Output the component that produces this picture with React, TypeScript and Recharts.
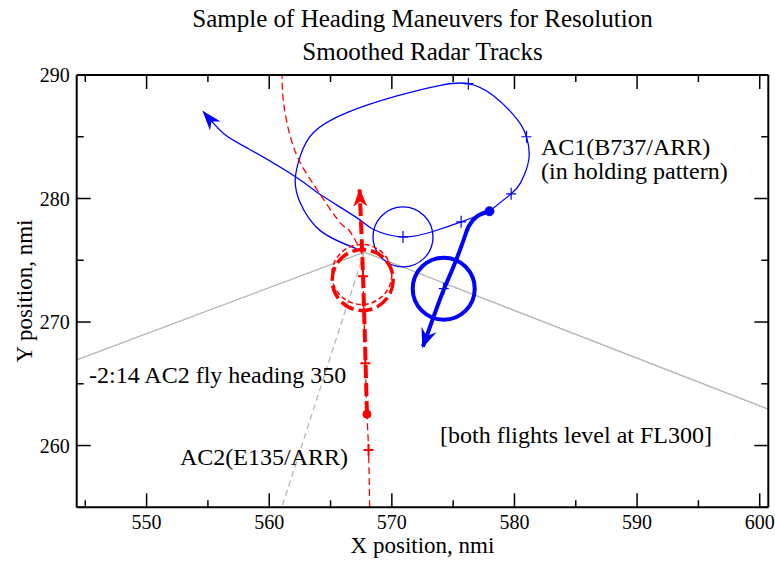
import { ComposedChart, Line, ReferenceDot, Scatter, XAxis, YAxis } from 'recharts';

const FONT = '"Liberation Serif", "Times New Roman", serif';
const BLUE = '#0000ff';
const RED = '#ff0000';
const GRAY = '#b4b4b4';

const X_DOMAIN = [544.3, 600.7];
const Y_DOMAIN = [255, 290];
const X_TICKS = [545, 550, 555, 560, 565, 570, 575, 580, 585, 590, 595, 600];
const Y_TICKS = [255, 260, 265, 270, 275, 280, 285, 290];

// separation geometry (gray)
const ridge = [
  { x: 544.3, y: 266.94 },
  { x: 567.75, y: 275.66 },
  { x: 600.7, y: 262.94 },
];
const ridgeDash = [
  { x: 567.75, y: 275.66 },
  { x: 561.03, y: 255 },
];

// AC2 smoothed track (thin dashed red)
const ac2Track = [
  { x: 568.19, y: 255 },
  { x: 568.1, y: 259.64 },
  { x: 567.97, y: 262.54 },
  { x: 567.84, y: 266.67 },
  { x: 567.65, y: 273.7 },
  { x: 567.45, y: 275.8 },
  { x: 566.5, y: 277.45 },
  { x: 565.79, y: 278.03 },
  { x: 563.89, y: 280.73 },
  { x: 562.53, y: 282.9 },
  { x: 561.71, y: 285.05 },
  { x: 561.17, y: 287.76 },
  { x: 561.05, y: 290 },
];
// AC2 heading 350 maneuver (thick dashed red)
const ac2Maneuver = [
  { x: 567.97, y: 262.54 },
  { x: 567.65, y: 273.7 },
  { x: 567.37, y: 280.73 },
];

// AC1 holding pattern (thin blue)
const ac1Hold = [
  { x: 567.1, y: 275.94 },
  { x: 564.16, y: 277.4 },
  { x: 562.53, y: 279.65 },
  { x: 562.12, y: 281.54 },
  { x: 562.53, y: 283.43 },
  { x: 563.59, y: 285.33 },
  { x: 566.34, y: 286.95 },
  { x: 570.42, y: 288.3 },
  { x: 573.96, y: 289.16 },
  { x: 576.24, y: 289.3 },
  { x: 578.31, y: 288.3 },
  { x: 580.22, y: 286.41 },
  { x: 580.98, y: 285.0 },
  { x: 581.17, y: 283.16 },
  { x: 580.49, y: 281.27 },
  { x: 579.73, y: 280.38 },
  { x: 577.96, y: 278.97 },
];
const ac1Exit = [
  { x: 577.96, y: 278.97 },
  { x: 575.65, y: 278.11 },
  { x: 573.41, y: 277.35 },
  { x: 570.91, y: 276.89 },
  { x: 568.51, y: 277.49 },
  { x: 567.16, y: 278.43 },
  { x: 564.16, y: 280.32 },
  { x: 562.26, y: 281.68 },
  { x: 558.45, y: 283.95 },
  { x: 556.3, y: 285.24 },
  { x: 554.61, y: 287.05 },
];
// AC1 resolution maneuver (thick blue)
const ac1Maneuver = [
  { x: 577.96, y: 278.97 },
  { x: 576.95, y: 278.56 },
  { x: 576.27, y: 277.75 },
  { x: 575.86, y: 276.67 },
  { x: 575.04, y: 274.51 },
  { x: 574.23, y: 272.62 },
  { x: 573.41, y: 270.45 },
  { x: 572.54, y: 268.02 },
];

const ac1Marks = [
  { x: 576.24, y: 289.3 },
  { x: 580.98, y: 285.0 },
  { x: 579.73, y: 280.38 },
  { x: 575.65, y: 278.11 },
  { x: 570.91, y: 276.89 },
  { x: 574.23, y: 272.7 },
];
const ac2Marks = [
  { x: 568.1, y: 259.64 },
  { x: 567.84, y: 266.67 },
  { x: 567.65, y: 273.7 },
];

const isMajor = (v: number) => Math.round(v) % 10 === 0;

const BottomTick = ({ x, y, payload }: any) => (
  <g>
    <line x1={x} x2={x} y1={y} y2={y - (isMajor(payload.value) ? 14 : 7)} stroke="#000" strokeWidth={1.5} />
    {isMajor(payload.value) && (
      <text x={x} y={y + 22} textAnchor="middle" fontSize={20} fontFamily={FONT} fill="#000">
        {payload.value}
      </text>
    )}
  </g>
);
const TopTick = ({ x, y, payload }: any) => (
  <line x1={x} x2={x} y1={y} y2={y + (isMajor(payload.value) ? 14 : 7)} stroke="#000" strokeWidth={1.5} />
);
const LeftTick = ({ x, y, payload }: any) => (
  <g>
    <line x1={x} x2={x + (isMajor(payload.value) ? 14 : 7)} y1={y} y2={y} stroke="#000" strokeWidth={1.5} />
    {isMajor(payload.value) && (
      <text x={x - 7} y={y + 7} textAnchor="end" fontSize={20} fontFamily={FONT} fill="#000">
        {payload.value}
      </text>
    )}
  </g>
);
const RightTick = ({ x, y, payload }: any) => (
  <line x1={x} x2={x - (isMajor(payload.value) ? 14 : 7)} y1={y} y2={y} stroke="#000" strokeWidth={1.5} />
);

const plus = (color: string, w: number) => (p: any) => (
  <path d={`M${p.cx - 5},${p.cy}H${p.cx + 5}M${p.cx},${p.cy - 6}V${p.cy + 6}`} stroke={color} strokeWidth={w} fill="none" />
);

export default function App() {
  return (
    <div style={{ position: 'absolute', left: 0, top: 0, width: 775, height: 563, background: '#fff' }}>
      <ComposedChart
        width={775}
        height={563}
        margin={{ top: 74, right: 5.7, bottom: 54.7, left: 75.7 }}
      >
        <defs>
          <marker id="arrowBlue" viewBox="0 0 20 16" markerWidth={20} markerHeight={16} refX={19} refY={8} orient="auto" markerUnits="userSpaceOnUse">
            <path d="M0,1 L20,8 L0,15 L6,8 Z" fill={BLUE} />
          </marker>
          <marker id="arrowBlueThick" viewBox="0 0 20 18" markerWidth={20} markerHeight={18} refX={18} refY={9} orient="auto" markerUnits="userSpaceOnUse">
            <path d="M0,1 L20,9 L0,17 L7,9 Z" fill={BLUE} />
          </marker>
          <marker id="arrowRed" viewBox="0 0 18 14" markerWidth={18} markerHeight={14} refX={17} refY={7} orient="auto" markerUnits="userSpaceOnUse">
            <path d="M0,0 L18,7 L0,14 L5,7 Z" fill={RED} />
          </marker>
        </defs>
        <XAxis
          type="number"
          dataKey="x"
          domain={X_DOMAIN}
          ticks={X_TICKS}
          interval={0}
          allowDataOverflow
          height={1}
          tickSize={0}
          tickMargin={0}
          tickLine={false}
          axisLine={{ stroke: '#000', strokeWidth: 2 }}
          tick={(p: any) => <BottomTick {...p} />}
        />
        <XAxis
          xAxisId="top"
          orientation="top"
          type="number"
          dataKey="x"
          domain={X_DOMAIN}
          ticks={X_TICKS}
          interval={0}
          allowDataOverflow
          height={1}
          tickSize={0}
          tickMargin={0}
          tickLine={false}
          axisLine={{ stroke: '#000', strokeWidth: 2 }}
          tick={(p: any) => <TopTick {...p} />}
        />
        <YAxis
          type="number"
          dataKey="y"
          domain={Y_DOMAIN}
          ticks={Y_TICKS}
          interval={0}
          allowDataOverflow
          width={1}
          tickSize={0}
          tickMargin={0}
          tickLine={false}
          axisLine={{ stroke: '#000', strokeWidth: 2 }}
          tick={(p: any) => <LeftTick {...p} />}
        />
        <YAxis
          yAxisId="right"
          orientation="right"
          type="number"
          dataKey="y"
          domain={Y_DOMAIN}
          ticks={Y_TICKS}
          interval={0}
          allowDataOverflow
          width={1}
          tickSize={0}
          tickMargin={0}
          tickLine={false}
          axisLine={{ stroke: '#000', strokeWidth: 2 }}
          tick={(p: any) => <RightTick {...p} />}
        />

        <Line data={ridge} dataKey="y" type="linear" stroke={GRAY} strokeWidth={1.3} dot={false} isAnimationActive={false} />
        <Line data={ridgeDash} dataKey="y" type="linear" stroke={GRAY} strokeWidth={1.3} strokeDasharray="6 4" dot={false} isAnimationActive={false} />

        <Line data={ac1Hold} dataKey="y" type="natural" stroke={BLUE} strokeWidth={1.3} dot={false} isAnimationActive={false} />
        <Line data={ac1Exit} dataKey="y" type="natural" stroke={BLUE} strokeWidth={1.3} dot={false} markerEnd="url(#arrowBlue)" isAnimationActive={false} />
        <Line data={ac1Maneuver} dataKey="y" type="natural" stroke={BLUE} strokeWidth={4} dot={false} markerEnd="url(#arrowBlueThick)" isAnimationActive={false} />

        <Line data={ac2Track} dataKey="y" type="natural" stroke={RED} strokeWidth={1.3} strokeDasharray="7 4" dot={false} isAnimationActive={false} />
        <Line data={ac2Maneuver} dataKey="y" type="natural" stroke={RED} strokeWidth={4} strokeDasharray="13 5" dot={false} markerEnd="url(#arrowRed)" isAnimationActive={false} />

        <ReferenceDot x={570.91} y={276.89} r={30} fill="none" stroke={BLUE} strokeWidth={1.3} />
        <ReferenceDot x={574.23} y={272.7} r={31} fill="none" stroke={BLUE} strokeWidth={4} />
        <ReferenceDot x={567.62} y={273.4} r={30.5} fill="none" stroke={RED} strokeWidth={3.5} strokeDasharray="14 5" />
        <ReferenceDot x={567.55} y={273.85} r={30} fill="none" stroke={RED} strokeWidth={1.5} strokeDasharray="5 3" />

        <Scatter data={ac1Marks} dataKey="y" shape={plus(BLUE, 1.2)} isAnimationActive={false} />
        <Scatter data={ac2Marks} dataKey="y" shape={plus(RED, 2)} isAnimationActive={false} />

        <ReferenceDot x={577.96} y={278.97} r={4.5} fill={BLUE} stroke={BLUE} />
        <ReferenceDot x={567.97} y={262.54} r={4} fill={RED} stroke={RED} />
      </ComposedChart>

      <svg width={775} height={563} style={{ position: 'absolute', left: 0, top: 0, pointerEvents: 'none' }}>
        <g fontFamily={FONT} fill="#000">
          <text x={422.5} y={27} fontSize={25} textAnchor="middle">Sample of Heading Maneuvers for Resolution</text>
          <text x={422.5} y={60} fontSize={25} textAnchor="middle">Smoothed Radar Tracks</text>
          <text x={422.5} y={553} fontSize={23} textAnchor="middle">X position, nmi</text>
          <text x={32} y={291} fontSize={23} textAnchor="middle" transform="rotate(-90 32 291)">Y position, nmi</text>
          <text x={541} y={155} fontSize={24}>AC1(B737/ARR)</text>
          <text x={541} y={179} fontSize={24}>(in holding pattern)</text>
          <text x={89} y={383} fontSize={24}>-2:14 AC2 fly heading 350</text>
          <text x={180} y={465} fontSize={24}>AC2(E135/ARR)</text>
          <text x={440} y={443} fontSize={24}>[both flights level at FL300]</text>
        </g>
      </svg>
    </div>
  );
}
